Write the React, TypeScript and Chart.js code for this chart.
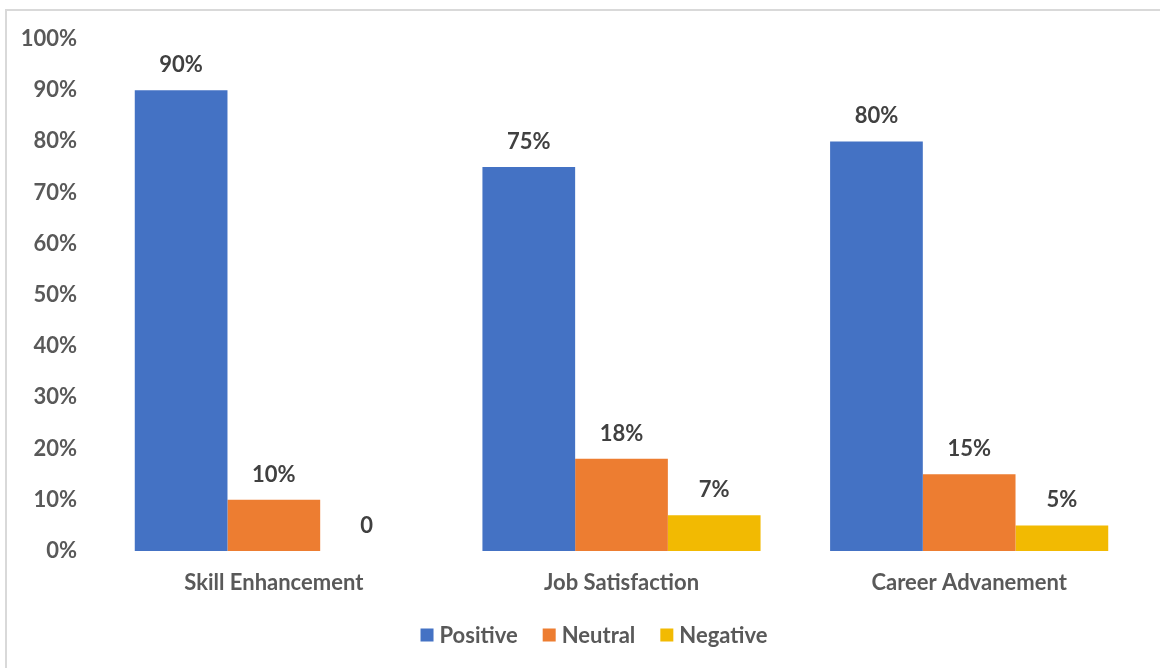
import React, { useEffect, useRef } from "react";
import { Chart, registerables } from "chart.js";

Chart.register(...registerables);

const categories = ["Skill Enhancement", "Job Satisfaction", "Career Advanement"];
const positive = [90, 75, 80];
const neutral = [10, 18, 15];
const negative = [0, 7, 5];
const seriesNames = ["Positive", "Neutral", "Negative"];
const seriesColors = ["#4472C4", "#ED7D31", "#F2BA02"];

const FONT = "Lato, 'Open Sans', sans-serif";
const TEXT = "#595959";

const labelPlugin = {
  id: "barLabels",
  afterDatasetsDraw(chart: any) {
    const ctx = chart.ctx;
    ctx.save();
    ctx.font = `bold 22px ${FONT}`;
    ctx.fillStyle = "#404040";
    ctx.textAlign = "center";
    ctx.textBaseline = "middle";
    chart.data.datasets.forEach((ds: any, di: number) => {
      const meta = chart.getDatasetMeta(di);
      meta.data.forEach((bar: any, i: number) => {
        const v = ds.data[i];
        const txt = v === 0 ? "0" : `${v}%`;
        ctx.fillText(txt, bar.x, bar.y - 25);
      });
    });
    ctx.restore();
  },
};

const legendPlugin = {
  id: "customLegend",
  afterDraw(chart: any) {
    const ctx = chart.ctx;
    ctx.save();
    ctx.font = `bold 22px ${FONT}`;
    ctx.textBaseline = "middle";
    ctx.textAlign = "left";
    const box = 13;
    const gapText = 6;
    const gapItem = 25;
    const items = chart.data.datasets.map((ds: any) => ({
      label: ds.label,
      color: ds.backgroundColor,
      w: ctx.measureText(ds.label).width,
    }));
    const total =
      items.reduce((s: number, it: any) => s + box + gapText + it.w, 0) + gapItem * (items.length - 1);
    const cy = 635;
    let x = 594 - total / 2;
    items.forEach((it: any) => {
      ctx.fillStyle = it.color;
      ctx.fillRect(x, cy - box / 2, box, box);
      x += box + gapText;
      ctx.fillStyle = TEXT;
      ctx.fillText(it.label, x, cy + 1);
      x += it.w + gapItem;
    });
    ctx.restore();
  },
};

export default function App() {
  const ref = useRef<HTMLCanvasElement>(null);
  useEffect(() => {
    if (!ref.current) return;
    const chart = new Chart(ref.current, {
      type: "bar",
      data: {
        labels: categories,
        datasets: [positive, neutral, negative].map((d, i) => ({
          label: seriesNames[i],
          data: d,
          backgroundColor: seriesColors[i],
          categoryPercentage: 0.8,
          barPercentage: 1.0,
        })),
      },
      options: {
        animation: false,
        responsive: false,
        maintainAspectRatio: false,
        layout: { padding: { top: 39, left: 0, right: 17, bottom: 77 } },
        scales: {
          x: {
            grid: { display: false, drawTicks: false },
            border: { display: false },
            ticks: {
              color: TEXT,
              font: { family: FONT, size: 22, weight: "bold" },
              padding: 19,
            },
            afterFit(scale: any) {
              scale.height = 40;
            },
          },
          y: {
            min: 0,
            max: 100,
            grid: { display: false, drawTicks: false },
            border: { display: false },
            ticks: {
              stepSize: 10,
              color: TEXT,
              font: { family: FONT, size: 22, weight: "bold" },
              padding: 23,
              callback: (v: any) => `${v}%`,
            },
            afterFit(scale: any) {
              scale.width = 100;
            },
          },
        },
        plugins: {
          legend: { display: false },
          tooltip: { enabled: false },
        },
      },
      plugins: [labelPlugin, legendPlugin],
    });
    return () => chart.destroy();
  }, []);
  return (
    <div style={{ position: "fixed", left: 0, top: 0, width: 1160, height: 668, background: "#fff" }}>
      <div
        style={{
          position: "absolute",
          left: 5,
          top: 9,
          width: 1200,
          height: 700,
          border: "2px solid #d9d9d9",
          boxSizing: "border-box",
        }}
      />
      <canvas ref={ref} width={1160} height={668} style={{ position: "absolute", left: 0, top: 0 }} />
    </div>
  );
}
